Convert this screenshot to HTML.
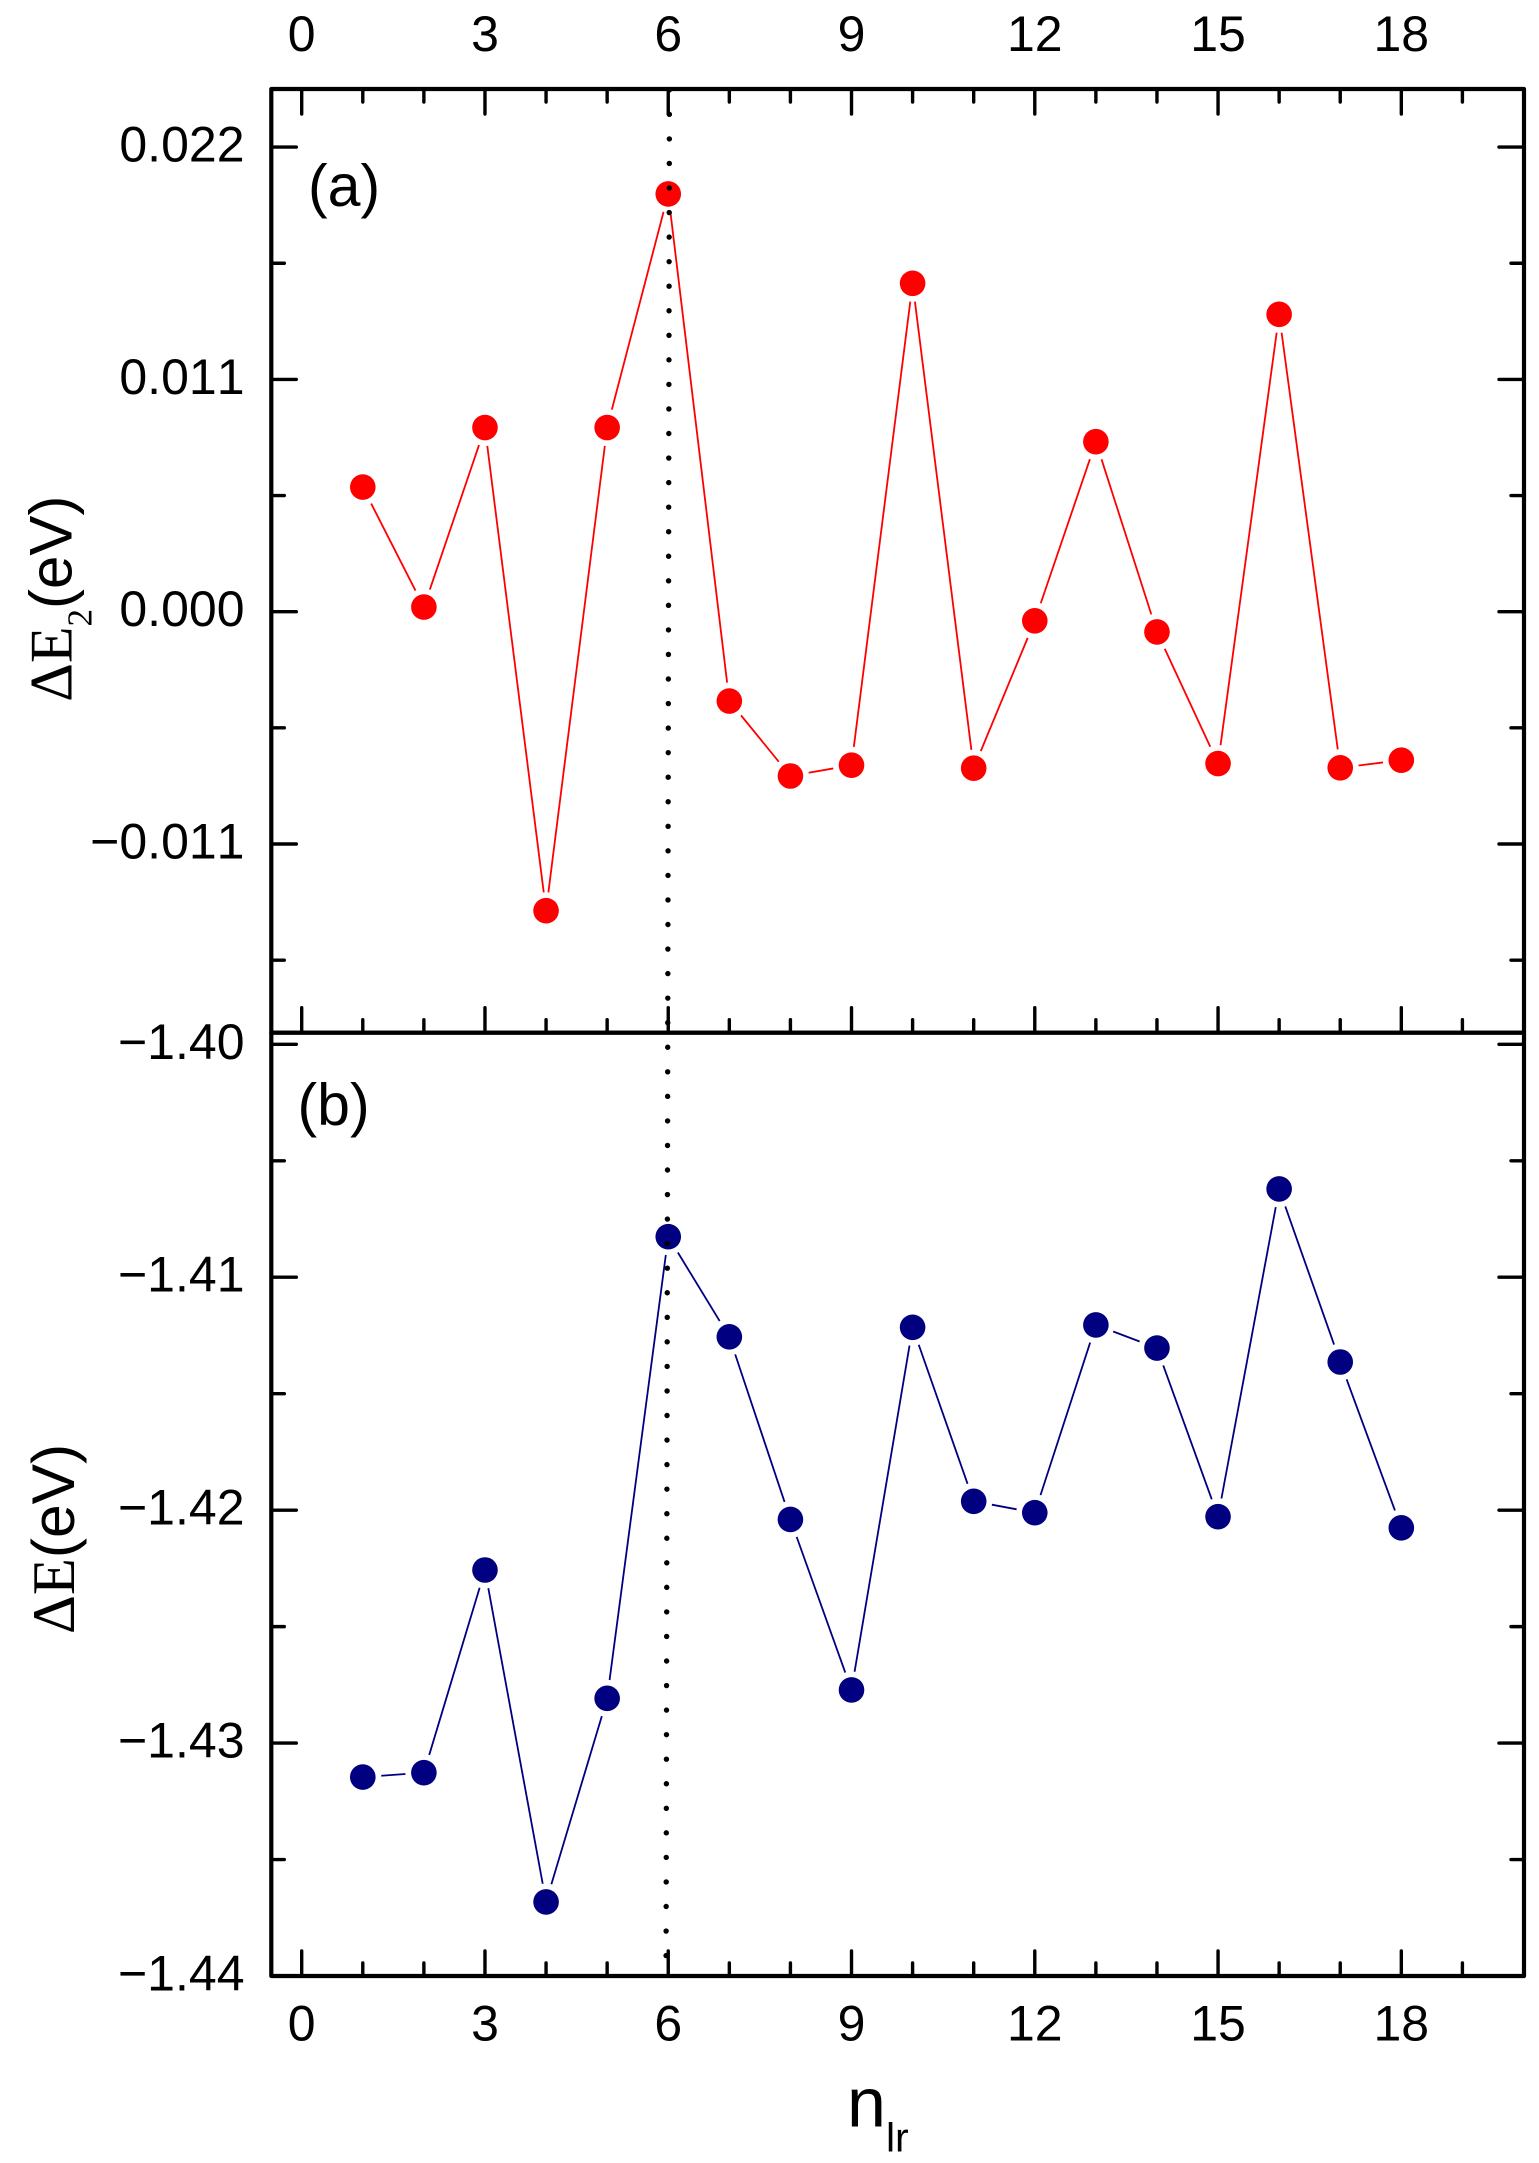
<!DOCTYPE html>
<html lang="en">
<head>
<meta charset="utf-8">
<title>Two-panel chart of energy differences against n_lr</title>
<style>
html,body{margin:0;padding:0;background:#fff;}
body{width:1539px;height:2163px;overflow:hidden;}
svg{display:block;}
text{fill:#000;font-family:"Liberation Sans",sans-serif;font-kerning:none;}
.serif{font-family:"Liberation Serif",serif;}
</style>
</head>
<body>
<svg id="chart" xmlns="http://www.w3.org/2000/svg" width="1539" height="2163" viewBox="0 0 1539 2163">
  <g id="ticks"></g>
  <g id="tick-labels"></g>
  <g id="series-a"></g>
  <g id="series-b"></g>
  <line id="ref-line" stroke="#000" stroke-width="5.4" stroke-linecap="round" stroke-dasharray="0 24.55"></line>
  <rect x="271.3" y="89" width="1252.7" height="943.7" fill="none" stroke="#000" stroke-width="4.2" stroke-linejoin="round"></rect>
  <rect x="271.3" y="1032.7" width="1252.7" height="943.3" fill="none" stroke="#000" stroke-width="4.2" stroke-linejoin="round"></rect>
  <text x="308" y="206" font-size="59">(a)</text>
  <text x="297.5" y="1125" font-size="59">(b)</text>
  <text transform="translate(71.7 701.7) rotate(-90)" font-size="60"><tspan class="serif">ΔE</tspan><tspan class="serif" font-size="35" dy="20">2</tspan><tspan dy="-20">(eV)</tspan></text>
  <text transform="translate(74 1634) rotate(-90)" font-size="60.5"><tspan class="serif">ΔE</tspan><tspan>(eV)</tspan></text>
  <text x="847" y="2126.7" font-size="70">n<tspan font-size="41" dy="25">lr</tspan></text>
</svg>
<script>
const categories = [1, 2, 3, 4, 5, 6, 7, 8, 9, 10, 11, 12, 13, 14, 15, 16, 17, 18];
const deltaE2Values = [0.0059, 0.00022, 0.00872, -0.01416, 0.00872, 0.01978, -0.00423, -0.00778, -0.00727, 0.01555, -0.00741, -0.00043, 0.00805, -0.00096, -0.00719, 0.01408, -0.00739, -0.00703];
const deltaEValues = [-1.43146, -1.43127, -1.42257, -1.43682, -1.42808, -1.40826, -1.41256, -1.4204, -1.42772, -1.41215, -1.41962, -1.42011, -1.41205, -1.41304, -1.42028, -1.40621, -1.41364, -1.42076];
const xMajorTicks = [0, 3, 6, 9, 12, 15, 18];
const xMinorTicks = [1, 2, 4, 5, 7, 8, 10, 11, 13, 14, 16, 17, 19];
const yAMajorTicks = [0.022, 0.011, 0, -0.011];
const yAMajorLabels = ['0.022', '0.011', '0.000', '\u22120.011'];
const yAMinorTicks = [0.0165, 0.0055, -0.0055, -0.0165];
const yBMajorTicks = [-1.40, -1.41, -1.42, -1.43, -1.44];
const yBMajorLabels = ['\u22121.40', '\u22121.41', '\u22121.42', '\u22121.43', '\u22121.44'];
const yBMinorTicks = [-1.405, -1.415, -1.425, -1.435];
const referenceX = 6;

const NS = 'http://www.w3.org/2000/svg';
const LEFT = 271.3, RIGHT = 1524, TOP = 89, MID = 1032.7, BOTTOM = 1976;
const MAJOR = 25, MINOR = 13;
const X0 = 301.7, XPX = 61.09;
const xScale = v => X0 + XPX * v;
const yScaleA = v => 611.7 - v * (232.3 / 0.011);
const yScaleB = v => 1044.3 + (-1.40 - v) * (931.7 / 0.04);

const ticksG = document.getElementById('ticks');
const labelsG = document.getElementById('tick-labels');

function tickLine(x1, y1, x2, y2) {
  const el = document.createElementNS(NS, 'line');
  el.setAttribute('x1', x1);
  el.setAttribute('y1', y1);
  el.setAttribute('x2', x2);
  el.setAttribute('y2', y2);
  el.setAttribute('stroke', '#000');
  el.setAttribute('stroke-width', '3.4');
  el.setAttribute('stroke-linecap', 'round');
  
  
  ticksG.appendChild(el);
}
function tickLabel(x, y, anchor, str) {
  const el = document.createElementNS(NS, 'text');
  el.setAttribute('x', x);
  el.setAttribute('y', y);
  el.setAttribute('text-anchor', anchor);
  el.setAttribute('font-size', '50');
  el.textContent = str;
  
  
  labelsG.appendChild(el);
}

xMajorTicks.forEach(v => {
  const x = xScale(v);
  tickLine(x, TOP, x, TOP + MAJOR);
  tickLine(x, MID, x, MID - MAJOR);
  tickLine(x, BOTTOM, x, BOTTOM - MAJOR);
  tickLabel(x, 51, 'middle', String(v));
  tickLabel(x, 2040.5, 'middle', String(v));
});
xMinorTicks.forEach(v => {
  const x = xScale(v);
  tickLine(x, TOP, x, TOP + MINOR);
  tickLine(x, MID, x, MID - MINOR);
  tickLine(x, BOTTOM, x, BOTTOM - MINOR);
});
function yTicks(values, scale, len) {
  values.forEach(v => {
    const y = scale(v);
    tickLine(LEFT, y, LEFT + len, y);
    tickLine(RIGHT, y, RIGHT - len, y);
  });
}
yTicks(yAMajorTicks, yScaleA, MAJOR);
yTicks(yAMinorTicks, yScaleA, MINOR);
yTicks(yBMajorTicks, yScaleB, MAJOR);
yTicks(yBMinorTicks, yScaleB, MINOR);
yAMajorTicks.forEach((v, i) => tickLabel(244.5, yScaleA(v) + 14.5, 'end', yAMajorLabels[i]));
yBMajorTicks.forEach((v, i) => tickLabel(244.5, yScaleB(v) + 14.5, 'end', yBMajorLabels[i]));

function drawSeries(groupId, values, scale, color) {
  const g = document.getElementById(groupId);
  const GAP = 18.5;
  const pts = categories.map((c, i) => [xScale(c), scale(values[i])]);
  for (let i = 0; i < pts.length - 1; i++) {
    const [x1, y1] = pts[i], [x2, y2] = pts[i + 1];
    const d = Math.hypot(x2 - x1, y2 - y1);
    const ux = (x2 - x1) / d, uy = (y2 - y1) / d;
    const seg = document.createElementNS(NS, 'line');
    seg.setAttribute('x1', x1 + ux * GAP);
    seg.setAttribute('y1', y1 + uy * GAP);
    seg.setAttribute('x2', x2 - ux * GAP);
    seg.setAttribute('y2', y2 - uy * GAP);
    seg.setAttribute('stroke', color);
    seg.setAttribute('stroke-width', '1.8');
    
    
    g.appendChild(seg);
  }
  pts.forEach(([x, y]) => {
    const dot = document.createElementNS(NS, 'circle');
    dot.setAttribute('cx', x);
    dot.setAttribute('cy', y);
    dot.setAttribute('r', '12.8');
    dot.setAttribute('fill', color);
    
    
    g.appendChild(dot);
  });
}
drawSeries('series-a', deltaE2Values, yScaleA, '#ff0000');
drawSeries('series-b', deltaEValues, yScaleB, '#000080');

const ref = document.getElementById('ref-line');
ref.setAttribute('x1', xScale(referenceX) + 1.2);
ref.setAttribute('y1', TOP + 0.8);
ref.setAttribute('x2', xScale(referenceX) - 2.2);
ref.setAttribute('y2', BOTTOM);
</script>
</body>
</html>
